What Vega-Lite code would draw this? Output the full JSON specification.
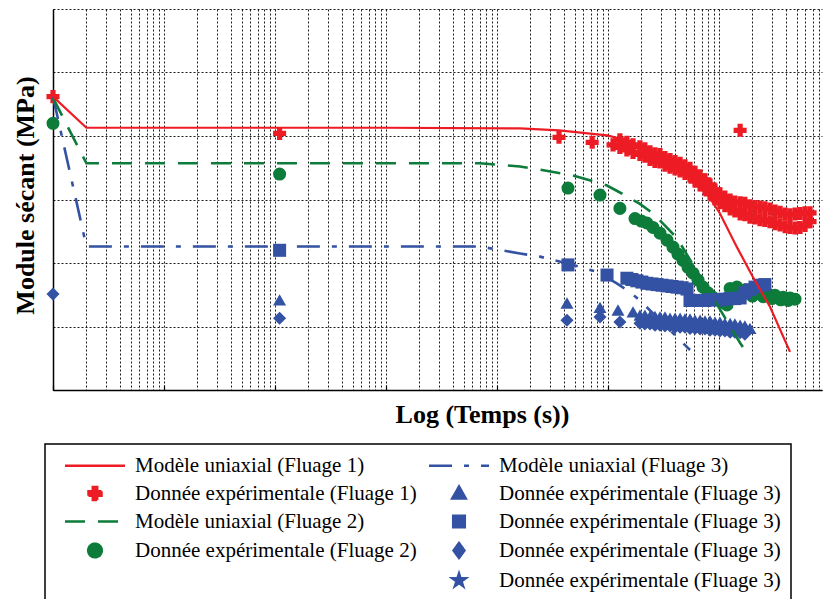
{
  "$schema": "https://vega.github.io/schema/vega-lite/v6.json",
  "width": 769,
  "height": 381,
  "autosize": {"type": "none"},
  "padding": {"left": 53, "top": 9, "right": 1, "bottom": 209},
  "background": "white",
  "config": {"view": {"stroke": null}, "font": "Liberation Serif"},
  "data": {"values": [
    {"series":"d1","t":1,"E":4.62},{"series":"d1","t":110,"E":4.04},{"series":"d1","t":36200,"E":3.98},{"series":"d1","t":72000,"E":3.90},{"series":"d1","t":111000,"E":3.86},
    {"series":"d1","t":128000,"E":3.94},{"series":"d1","t":128000,"E":3.82},{"series":"d1","t":148000,"E":3.90},{"series":"d1","t":148000,"E":3.78},{"series":"d1","t":168000,"E":3.86},{"series":"d1","t":168000,"E":3.74},{"series":"d1","t":194000,"E":3.83},{"series":"d1","t":194000,"E":3.71},{"series":"d1","t":215000,"E":3.80},{"series":"d1","t":215000,"E":3.68},{"series":"d1","t":239000,"E":3.75},{"series":"d1","t":239000,"E":3.63},{"series":"d1","t":265000,"E":3.72},{"series":"d1","t":265000,"E":3.60},{"series":"d1","t":294000,"E":3.71},{"series":"d1","t":294000,"E":3.59},{"series":"d1","t":326000,"E":3.66},{"series":"d1","t":326000,"E":3.54},{"series":"d1","t":362000,"E":3.63},{"series":"d1","t":362000,"E":3.51},{"series":"d1","t":402000,"E":3.60},{"series":"d1","t":402000,"E":3.48},{"series":"d1","t":446000,"E":3.57},{"series":"d1","t":446000,"E":3.45},{"series":"d1","t":494000,"E":3.53},{"series":"d1","t":494000,"E":3.41},{"series":"d1","t":548000,"E":3.49},{"series":"d1","t":548000,"E":3.37},{"series":"d1","t":608000,"E":3.43},{"series":"d1","t":608000,"E":3.29},{"series":"d1","t":675000,"E":3.37},{"series":"d1","t":675000,"E":3.23},{"series":"d1","t":748000,"E":3.31},{"series":"d1","t":748000,"E":3.17},{"series":"d1","t":830000,"E":3.23},{"series":"d1","t":830000,"E":3.09},{"series":"d1","t":920000,"E":3.15},{"series":"d1","t":920000,"E":3.01},{"series":"d1","t":1020000,"E":3.09},{"series":"d1","t":1020000,"E":2.95},{"series":"d1","t":1130000,"E":3.04},{"series":"d1","t":1130000,"E":2.90},{"series":"d1","t":1260000,"E":2.99},{"series":"d1","t":1260000,"E":2.85},{"series":"d1","t":1390000,"E":2.96},{"series":"d1","t":1390000,"E":2.82},{"series":"d1","t":1550000,"E":2.95},{"series":"d1","t":1550000,"E":2.77},{"series":"d1","t":1710000,"E":2.94},{"series":"d1","t":1710000,"E":2.76},{"series":"d1","t":1900000,"E":2.90},{"series":"d1","t":1900000,"E":2.72},{"series":"d1","t":2110000,"E":2.89},{"series":"d1","t":2110000,"E":2.71},{"series":"d1","t":2340000,"E":2.88},{"series":"d1","t":2340000,"E":2.68},{"series":"d1","t":2590000,"E":2.87},{"series":"d1","t":2590000,"E":2.67},{"series":"d1","t":2880000,"E":2.85},{"series":"d1","t":2880000,"E":2.65},{"series":"d1","t":3200000,"E":2.82},{"series":"d1","t":3200000,"E":2.62},{"series":"d1","t":3550000,"E":2.80},{"series":"d1","t":3550000,"E":2.60},{"series":"d1","t":3940000,"E":2.77},{"series":"d1","t":3940000,"E":2.57},{"series":"d1","t":4360000,"E":2.76},{"series":"d1","t":4360000,"E":2.56},{"series":"d1","t":4840000,"E":2.77},{"series":"d1","t":4840000,"E":2.55},{"series":"d1","t":5370000,"E":2.78},{"series":"d1","t":5370000,"E":2.56},{"series":"d1","t":5960000,"E":2.79},{"series":"d1","t":5960000,"E":2.59},{"series":"d1","t":6610000,"E":2.79},{"series":"d1","t":6610000,"E":2.65},{"series":"d1","t":1550000,"E":4.09},
    {"series":"d2","t":1,"E":4.20},{"series":"d2","t":110,"E":3.40},{"series":"d2","t":43600,"E":3.18},{"series":"d2","t":84700,"E":3.07},{"series":"d2","t":128000,"E":2.86},{"series":"d2","t":175000,"E":2.70},{"series":"d2","t":200000,"E":2.66},{"series":"d2","t":224000,"E":2.63},{"series":"d2","t":254000,"E":2.56},{"series":"d2","t":294000,"E":2.47},{"series":"d2","t":340000,"E":2.36},{"series":"d2","t":385000,"E":2.25},{"series":"d2","t":427000,"E":2.14},{"series":"d2","t":474000,"E":2.04},{"series":"d2","t":526000,"E":1.93},{"series":"d2","t":583000,"E":1.84},{"series":"d2","t":647000,"E":1.73},{"series":"d2","t":718000,"E":1.62},{"series":"d2","t":796000,"E":1.53},{"series":"d2","t":883000,"E":1.46},{"series":"d2","t":979000,"E":1.42},{"series":"d2","t":1090000,"E":1.38},{"series":"d2","t":1180000,"E":1.34},
    {"series":"d2","t":1260000,"E":1.60},{"series":"d2","t":1350000,"E":1.52},{"series":"d2","t":1450000,"E":1.62},{"series":"d2","t":1600000,"E":1.50},{"series":"d2","t":1710000,"E":1.57},{"series":"d2","t":1980000,"E":1.56},{"series":"d2","t":2000000,"E":1.48},{"series":"d2","t":2340000,"E":1.53},{"series":"d2","t":2500000,"E":1.47},{"series":"d2","t":2760000,"E":1.51},{"series":"d2","t":3000000,"E":1.44},{"series":"d2","t":3200000,"E":1.49},{"series":"d2","t":3600000,"E":1.42},{"series":"d2","t":3780000,"E":1.46},{"series":"d2","t":4200000,"E":1.41},{"series":"d2","t":4360000,"E":1.45},{"series":"d2","t":4840000,"E":1.43},
    {"series":"s3","t":110,"E":2.20},{"series":"s3","t":43600,"E":1.97},{"series":"s3","t":98000,"E":1.81},{"series":"s3","t":148000,"E":1.76},{"series":"s3","t":164000,"E":1.74},{"series":"s3","t":182000,"E":1.72},{"series":"s3","t":202000,"E":1.70},{"series":"s3","t":224000,"E":1.68},{"series":"s3","t":249000,"E":1.67},{"series":"s3","t":277000,"E":1.66},{"series":"s3","t":307000,"E":1.65},{"series":"s3","t":340000,"E":1.64},{"series":"s3","t":377000,"E":1.63},{"series":"s3","t":419000,"E":1.62},{"series":"s3","t":465000,"E":1.61},{"series":"s3","t":515000,"E":1.59},
    {"series":"s3","t":548000,"E":1.41},{"series":"s3","t":608000,"E":1.41},{"series":"s3","t":675000,"E":1.41},{"series":"s3","t":748000,"E":1.41},{"series":"s3","t":830000,"E":1.42},{"series":"s3","t":920000,"E":1.42},{"series":"s3","t":1020000,"E":1.42},{"series":"s3","t":1130000,"E":1.43},{"series":"s3","t":1260000,"E":1.44},{"series":"s3","t":1390000,"E":1.44},{"series":"s3","t":1550000,"E":1.45},{"series":"s3","t":1710000,"E":1.53},{"series":"s3","t":1900000,"E":1.58},{"series":"s3","t":2110000,"E":1.62},{"series":"s3","t":2340000,"E":1.65},{"series":"s3","t":2590000,"E":1.66},
    {"series":"t3","t":110,"E":1.42},{"series":"t3","t":42700,"E":1.37},{"series":"t3","t":84700,"E":1.30},{"series":"t3","t":123000,"E":1.26},{"series":"t3","t":168000,"E":1.23},{"series":"t3","t":194000,"E":1.18},{"series":"t3","t":215000,"E":1.18},{"series":"t3","t":239000,"E":1.16},{"series":"t3","t":265000,"E":1.16},{"series":"t3","t":294000,"E":1.15},{"series":"t3","t":326000,"E":1.15},{"series":"t3","t":362000,"E":1.13},{"series":"t3","t":402000,"E":1.13},{"series":"t3","t":446000,"E":1.13},{"series":"t3","t":494000,"E":1.12},{"series":"t3","t":548000,"E":1.12},{"series":"t3","t":608000,"E":1.10},{"series":"t3","t":675000,"E":1.10},{"series":"t3","t":748000,"E":1.09},{"series":"t3","t":830000,"E":1.09},{"series":"t3","t":920000,"E":1.07},{"series":"t3","t":1020000,"E":1.07},{"series":"t3","t":1130000,"E":1.05},{"series":"t3","t":1260000,"E":1.05},{"series":"t3","t":1390000,"E":1.04},{"series":"t3","t":1550000,"E":1.02},{"series":"t3","t":1710000,"E":1.01},{"series":"t3","t":1900000,"E":0.97},
    {"series":"k3","t":1,"E":1.51},{"series":"k3","t":110,"E":1.13},{"series":"k3","t":42700,"E":1.10},{"series":"k3","t":84700,"E":1.15},{"series":"k3","t":128000,"E":1.07},{"series":"k3","t":194000,"E":1.05},{"series":"k3","t":215000,"E":1.04},{"series":"k3","t":239000,"E":1.04},{"series":"k3","t":265000,"E":1.02},{"series":"k3","t":294000,"E":1.02},{"series":"k3","t":326000,"E":1.01},{"series":"k3","t":362000,"E":1.01},{"series":"k3","t":402000,"E":0.99},{"series":"k3","t":446000,"E":0.99},{"series":"k3","t":494000,"E":0.99},{"series":"k3","t":548000,"E":0.97},{"series":"k3","t":608000,"E":0.97},{"series":"k3","t":675000,"E":0.96},{"series":"k3","t":748000,"E":0.96},{"series":"k3","t":830000,"E":0.94},{"series":"k3","t":920000,"E":0.94},{"series":"k3","t":1020000,"E":0.93},{"series":"k3","t":1130000,"E":0.93},{"series":"k3","t":1260000,"E":0.91},{"series":"k3","t":1390000,"E":0.91},{"series":"k3","t":1550000,"E":0.90},{"series":"k3","t":1710000,"E":0.88},
    {"series":"m1","t":1,"E":4.62},{"series":"m1","t":2,"E":4.13},{"series":"m1","t":1000,"E":4.13},{"series":"m1","t":16100,"E":4.12},{"series":"m1","t":36200,"E":4.09},{"series":"m1","t":98000,"E":4.01},{"series":"m1","t":158000,"E":3.92},{"series":"m1","t":254000,"E":3.74},{"series":"m1","t":402000,"E":3.56},{"series":"m1","t":515000,"E":3.43},{"series":"m1","t":718000,"E":3.19},{"series":"m1","t":1020000,"E":2.78},{"series":"m1","t":1450000,"E":2.25},{"series":"m1","t":2020000,"E":1.78},{"series":"m1","t":2880000,"E":1.31},{"series":"m1","t":4360000,"E":0.60},
    {"series":"m2","t":1,"E":4.60},{"series":"m2","t":2,"E":3.57},{"series":"m2","t":7000,"E":3.57},{"series":"m2","t":16100,"E":3.52},{"series":"m2","t":24400,"E":3.47},{"series":"m2","t":48400,"E":3.38},{"series":"m2","t":98000,"E":3.22},{"series":"m2","t":128000,"E":3.11},{"series":"m2","t":194000,"E":2.93},{"series":"m2","t":254000,"E":2.78},{"series":"m2","t":326000,"E":2.59},{"series":"m2","t":419000,"E":2.39},{"series":"m2","t":675000,"E":1.79},{"series":"m2","t":1020000,"E":1.27},{"series":"m2","t":1550000,"E":0.74},{"series":"m2","t":1710000,"E":0.63},
    {"series":"m3","t":1,"E":4.62},{"series":"m3","t":2,"E":2.26},{"series":"m3","t":7000,"E":2.26},{"series":"m3","t":16100,"E":2.15},{"series":"m3","t":24400,"E":2.10},{"series":"m3","t":48400,"E":1.97},{"series":"m3","t":79600,"E":1.86},{"series":"m3","t":120000,"E":1.68},{"series":"m3","t":158000,"E":1.54},{"series":"m3","t":202000,"E":1.38},{"series":"m3","t":419000,"E":0.83},{"series":"m3","t":548000,"E":0.63}
  ]},
  "encoding": {
    "x": {"field": "t", "type": "quantitative",
      "scale": {"type": "log", "domain": [1, 8470000], "nice": false},
      "axis": {
        "orient": "bottom",
        "values": [1,2,3,4,5,6,7,8,9,10,20,30,40,50,60,70,80,90,100,200,300,400,500,600,700,800,900,1000,2000,3000,4000,5000,6000,7000,8000,9000,10000,20000,30000,40000,50000,60000,70000,80000,90000,100000,200000,300000,400000,500000,600000,700000,800000,900000,1000000,2000000,3000000,4000000,5000000,6000000,7000000,8000000],
        "labels": false, "grid": true, "gridColor": "#1a1a1a", "gridDash": [2, 2], "gridWidth": 1,
        "ticks": true, "tickSize": -5, "tickColor": "black", "tickWidth": 1.2,
        "tickOpacity": {"condition": {"test": "abs(log(datum.value)/LN10 - round(log(datum.value)/LN10)) < 0.001", "value": 1}, "value": 0},
        "domainColor": "black", "domainWidth": 1.5,
        "title": "Log (Temps (s))", "titleFont": "Liberation Serif", "titleFontSize": 26, "titleFontWeight": "bold", "titleColor": "black",
        "titleX": 429, "titlePadding": 11
      }
    },
    "y": {"field": "E", "type": "quantitative",
      "scale": {"domain": [0, 6], "nice": false, "zero": false},
      "axis": {
        "orient": "left",
        "values": [0,1,2,3,4,5,6], "labels": false, "grid": true, "gridColor": "#1a1a1a", "gridDash": [2, 2], "gridWidth": 1,
        "ticks": false,
        "domainColor": "black", "domainWidth": 1.5,
        "title": "Module sécant (MPa)", "titleFont": "Liberation Serif", "titleFontSize": 26, "titleFontWeight": "bold", "titleColor": "black",
        "titlePadding": 15, "titleY": 186
      }
    },
    "color": {"field": "series", "type": "nominal",
      "scale": {"domain": ["m1","d1","m2","d2","zz","m3","t3","s3","k3","st3"],
                "range": ["#ed1c24","#ed1c24","#0d7c3a","#0d7c3a","#ffffff","#3452a3","#3452a3","#3452a3","#3452a3","#3452a3"]},
      "legend": {
        "title": null, "orient": "none", "legendX": -8, "legendY": 435,
        "columns": 2, "columnPadding": 2, "rowPadding": 5,
        "padding": 10, "strokeColor": "black", "fillColor": "white",
        "labelFont": "Liberation Serif", "labelFontSize": 21, "labelColor": "black", "labelLimit": 400,
        "labelOffset": 28.5, "symbolOffset": 28.5, "symbolSize": 400, "symbolStrokeWidth": 2.5,
        "labelExpr": "datum.value=='m1' ? 'Modèle uniaxial (Fluage 1)' : datum.value=='m2' ? 'Modèle uniaxial (Fluage 2)' : datum.value=='m3' ? 'Modèle uniaxial (Fluage 3)' : datum.value=='d1' ? 'Donnée expérimentale (Fluage 1)' : datum.value=='d2' ? 'Donnée expérimentale (Fluage 2)' : datum.value=='zz' ? '' : 'Donnée expérimentale (Fluage 3)'",
        "encode": {
          "symbols": {"update": {
            "shape": {"signal": "indexof(datum.value,'m')==0 ? 'M-3,0H3' : datum.value=='d1' ? 'M-0.22,-0.65H0.22V-0.22H0.65V0.22H0.22V0.65H-0.22V0.22H-0.65V-0.22H-0.22Z' : datum.value=='d2' ? 'M-0.68,0A0.68,0.68 0 1,0 0.68,0A0.68,0.68 0 1,0 -0.68,0Z' : datum.value=='t3' ? 'M0,-0.7L0.68,0.5L-0.68,0.5Z' : datum.value=='s3' ? 'M-0.58,-0.58H0.58V0.58H-0.58Z' : datum.value=='k3' ? 'M0,-0.75L0.55,0L0,0.75L-0.55,0Z' : 'M0,-0.7L0.157,-0.216L0.666,-0.216L0.254,0.083L0.412,0.566L0,0.267L-0.412,0.566L-0.254,0.083L-0.666,-0.216L-0.157,-0.216Z'"},
            "fill": {"signal": "indexof(datum.value,'m')==0 ? 'transparent' : (indexof(datum.value,'1')>0 ? '#ed1c24' : indexof(datum.value,'2')>0 ? '#0d7c3a' : '#3452a3')"},
            "stroke": {"signal": "indexof(datum.value,'m')==0 ? (indexof(datum.value,'1')>0 ? '#ed1c24' : indexof(datum.value,'2')>0 ? '#0d7c3a' : '#3452a3') : 'transparent'"},
            "strokeDash": {"signal": "datum.value=='m2' ? [20,13] : datum.value=='m3' ? [23,12,5,12] : [1,0]"},
            "opacity": {"signal": "datum.value=='zz' ? 0 : 1"}
          }},
          "legend": {"update": {"strokeWidth": {"value": 1.5}}}
        }
      }
    }
  },
  "layer": [
    {
      "transform": [{"filter": "indexof(datum.series,'m')!=0"}],
      "mark": {"type": "point", "filled": true, "opacity": 1, "size": 170, "strokeWidth": 0},
      "encoding": {
        "shape": {"field": "series", "type": "nominal", "legend": null,
          "scale": {"domain": ["d1","d2","s3","t3","k3"], "range": ["cross","circle","square","triangle-up","diamond"]}}
      }
    },
    {
      "transform": [{"filter": "datum.series=='m3'"}],
      "mark": {"type": "line", "strokeWidth": 2.6, "strokeDash": [23, 12, 5, 12]},
      "encoding": {}
    },
    {
      "transform": [{"filter": "datum.series=='m2'"}],
      "mark": {"type": "line", "strokeWidth": 2.6, "strokeDash": [20, 13]},
      "encoding": {}
    },
    {
      "transform": [{"filter": "datum.series=='m1'"}],
      "mark": {"type": "line", "strokeWidth": 2.2},
      "encoding": {}
    }
  ]
}
